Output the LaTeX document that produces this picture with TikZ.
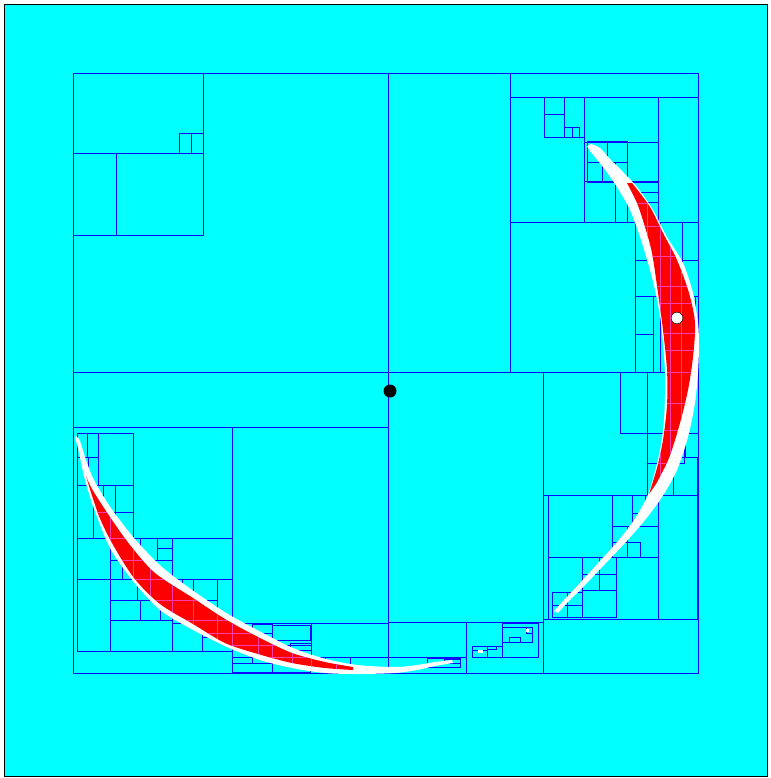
\documentclass[tikz,border=0pt]{standalone}
\definecolor{bgc}{RGB}{0,255,255}
\definecolor{gridb}{RGB}{10,10,255}
\definecolor{magl}{RGB}{255,60,170}
\begin{document}
\begin{tikzpicture}[x=0.3mm,y=-0.3mm,
  bl/.style={draw=gridb,line width=0.8pt},
  ml/.style={draw=magl,line width=0.35pt}]
\useasboundingbox (0,0) rectangle (770,778);
\fill[white] (0,0) rectangle (770,778);
\filldraw[fill=bgc,draw=black,line width=0.9pt] (4.5,4.5) rectangle (767.5,776.5);
% paving boxes
\foreach \a/\b/\c/\d in {73/73/698/673,73/73/203/235,179/133/191/153,191/133/203/153,
 544/97/564/137,564/127/572/137,572/127/579/137,627/142/658/181,
 587/141/607/162,607/141/627/162,587/162/602/182,602/162/615/182,615/182/627/222,627/182/658/202,637/192/658/222,
 635/222/660/260,635/260/660/296,660/222/682/260,682/222/698/260,682/260/698/296,
 635/296/653/334,635/334/653/372,653/296/660/372,695/296/698/372,
 620/372/647/433,647/372/665/433,647/433/663/463,647/463/657/495,685/433/698/457,673/457/697/495,667/433/684/463,
 612/495/632/526,632/495/645/513,612/526/627/542,627/542/640/557,612/542/627/557,
 582/557/616/590,599/557/616/574,582/574/599/590,582/590/616/617,
 552/592/567/605,567/592/582/605,552/605/567/617,567/605/582/617,658/495/697/619,
 427/658/460/667,444/659/460/663,472/646/502/657,472/650/487/657,487/646/496/649,
 502/623/538/657,502/627/532/642,509/637/520/642,526/627/532/633,
 232/623/272/633,252/624/272/633,272/623/311/645,290/643/311/650,232/657/252/663,232/663/272/672,325/657/350/665,350/657/388/667,
 77/433/87/457,87/433/98/457,98/433/133/485,88/457/98/485,
 103/485/115/512,115/485/133/512,115/512/133/538,
 133/538/172/579,140/538/157/560,157/548/172/560,
 182/579/193/590,193/579/217/600,217/579/232/620,
 77/485/93/538,77/538/110/579,110/560/122/579,110/579/137/600,137/587/150/600,110/620/172/651,140/600/160/620,172/623/202/651,202/637/232/651,
 272/625/310/640,272/660/310/672}
 \draw[bl] (\a,\b) rectangle (\c,\d);
\foreach \a/\b/\c/\d in {388/73/388/673,73/372/698/372,73/153/203/153,116/153/116/235,
 510/73/510/372,510/97/698/97,510/222/698/222,584/97/584/222,658/97/658/222,544/137/584/137,544/114/564/114,
 584/142/658/142,584/181/658/181,635/222/635/372,635/296/698/296,
 73/427/388/427,232/427/232/673,77/433/77/651,77/433/133/433,133/433/133/538,77/538/232/538,110/579/232/579,
 110/579/110/651,172/538/172/651,77/651/232/651,
 543/372/543/673,543/495/698/495,647/372/647/495,647/433/698/433,543/619/698/619,548/495/548/619,
 658/495/658/619,548/557/658/557,612/495/612/557,612/526/658/526,
 388/622/543/622,466/622/466/673,232/623/388/623,311/623/311/657,311/657/466/657,232/657/272/657}
 \draw[bl] (\a,\b) -- (\c,\d);
% white boundary bands
\fill[white] plot[smooth,tension=0.5] coordinates {(591,144) (600,148) (610,159) (623,172) (637,187) (653,210) (667,237) (683,263) (693,293) (698,323) (699,345) (698,372) (695,403) (688,437) (677,470) (662,497) (645,520) (625,543) (605,564) (585,585) (568,602) (558,613)}
 -- plot[smooth,tension=0.5] coordinates {(554,611) (564,600) (580,583) (599,562) (618,541) (634,520) (647,497) (654,475) (660,450) (664,420) (665,373) (661,323) (655,290) (648,263) (640,237) (630,210) (617,187) (603,167) (590,151) (587,146)} -- cycle;
\fill[white] plot[smooth,tension=0.5] coordinates {(76,436) (80,441) (86,460) (94,480) (111,508) (134,538) (162,567) (195,592) (228,614) (261,632) (293,648) (326,659) (358,665) (395,667) (417,665) (435,662) (452,660)}
 -- plot[smooth,tension=0.5] coordinates {(453,663) (435,666) (417,670) (395,673) (358,674) (325,673) (292,668) (260,660) (227,647) (193,630) (160,610) (133,581) (110,548) (93,506) (84,476) (78,448) (75,438)} -- cycle;
\fill[white] (478,650) rectangle (483,653);
\fill[white] (526,629) rectangle (529,632);
% red inside regions
\def\redA{plot[smooth,tension=0.5] coordinates {(627,183) (637,203) (645,227) (652,253) (658,293) (663,330) (667,370) (667,405) (663,440) (657,468) (649,494)}
 -- plot[smooth,tension=0.5] coordinates {(656,484) (669,458) (680,423) (688,390) (693,357) (695,323) (689,293) (677,260) (663,233) (650,207) (632,183)} -- cycle}
\def\redB{plot[smooth,tension=0.5] coordinates {(86,476) (92,489) (110,517) (130,545) (155,573) (193,598) (225,619) (258,637) (292,653) (325,662) (353,667)}
 -- plot[smooth,tension=0.5] coordinates {(353,670) (325,668) (292,663) (258,654) (225,643) (193,624) (160,604) (134,578) (112,543) (99,516) (89,486)} -- cycle}
\fill[red] \redA;
\fill[red] \redB;
\begin{scope}
\clip \redA;
\foreach \x in {647,660,670,681} \draw[ml] (\x,180) -- (\x,500);
\foreach \y in {203,226,256,286,303,333,350,372,403,430,463} \draw[ml] (620,\y) -- (700,\y);
\end{scope}
\begin{scope}
\clip \redB;
\foreach \x in {110,133,150,172,193,217,232,258,272,292,311,336} \draw[ml] (\x,470) -- (\x,672);
\foreach \y in {512,538,560,579,600,620,633,645,657} \draw[ml] (80,\y) -- (360,\y);
\end{scope}
% points
\node[circle,fill=black,inner sep=0pt,minimum size=3.9mm] (c) at (390,391) {};
\node[circle,fill=white,draw=black,line width=0.4pt,inner sep=0pt,minimum size=3.5mm] (p) at (677,318) {};
\end{tikzpicture}
\end{document}
